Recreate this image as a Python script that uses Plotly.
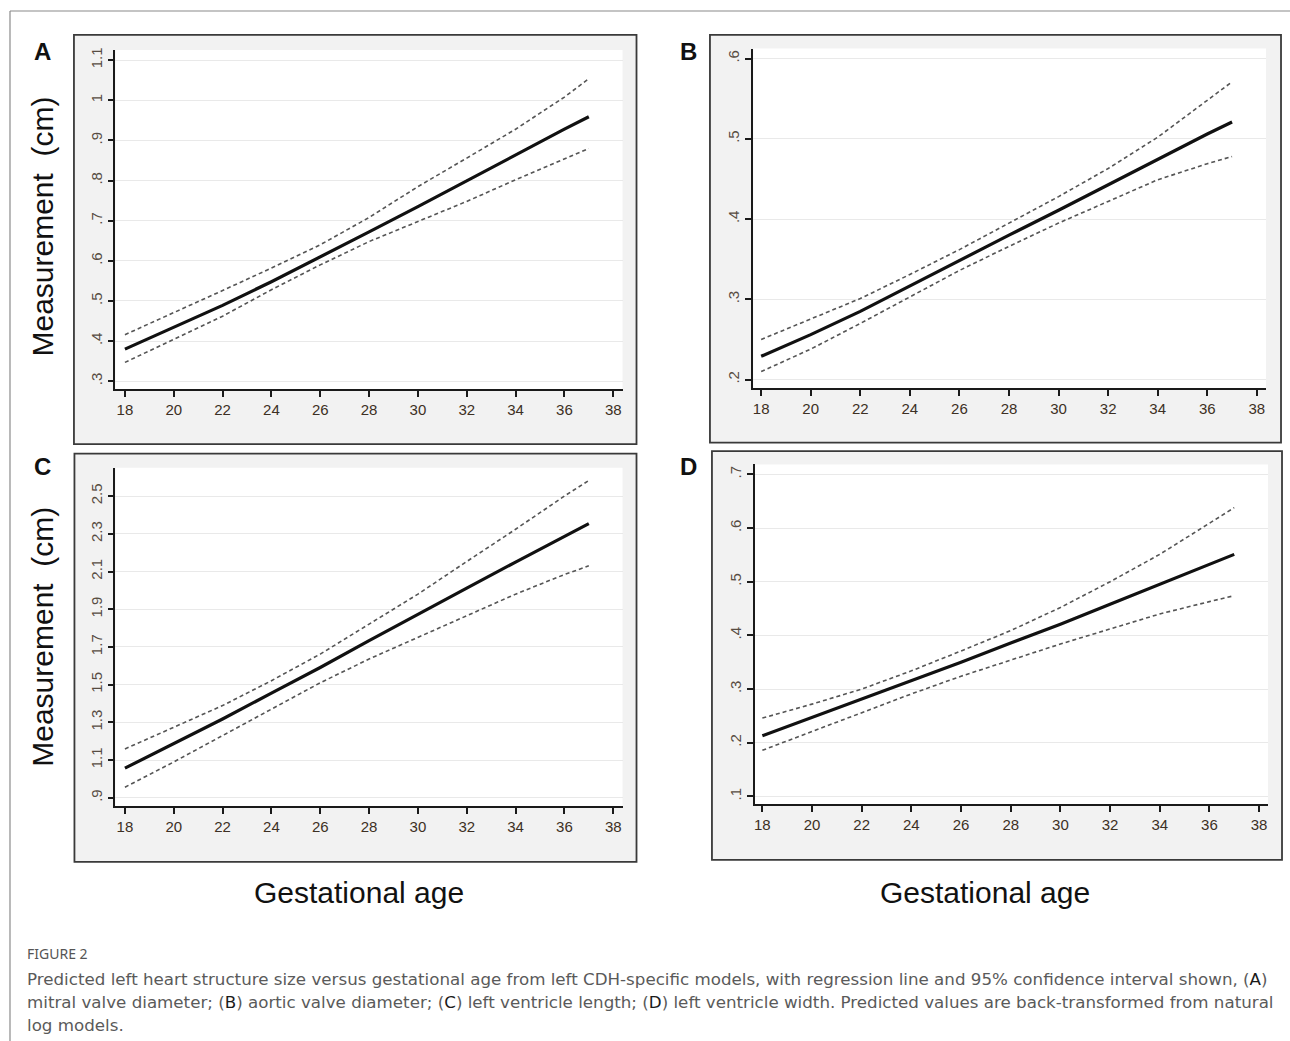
import plotly.graph_objects as go

W, H = 1290, 1041

# ---------------- data ----------------
weeks = [18, 20, 22, 24, 26, 28, 30, 32, 34, 36, 37]

a_fit = [0.380, 0.434, 0.489, 0.548, 0.609, 0.672, 0.735, 0.800, 0.864, 0.928, 0.959]
a_hi = [0.416, 0.470, 0.526, 0.582, 0.640, 0.708, 0.785, 0.856, 0.928, 1.008, 1.054]
a_lo = [0.347, 0.404, 0.462, 0.528, 0.590, 0.648, 0.698, 0.748, 0.802, 0.855, 0.880]

b_fit = [0.229, 0.256, 0.285, 0.317, 0.348, 0.380, 0.411, 0.443, 0.474, 0.506, 0.521]
b_hi = [0.250, 0.275, 0.301, 0.331, 0.362, 0.395, 0.428, 0.463, 0.502, 0.548, 0.571]
b_lo = [0.210, 0.238, 0.270, 0.303, 0.336, 0.366, 0.395, 0.422, 0.449, 0.469, 0.478]

c_fit = [1.057, 1.186, 1.318, 1.455, 1.591, 1.733, 1.874, 2.012, 2.150, 2.287, 2.354]
c_hi = [1.159, 1.274, 1.389, 1.521, 1.662, 1.821, 1.980, 2.153, 2.324, 2.500, 2.583]
c_lo = [0.956, 1.090, 1.230, 1.371, 1.510, 1.636, 1.752, 1.866, 1.980, 2.084, 2.130]

d_fit = [0.213, 0.247, 0.282, 0.316, 0.350, 0.386, 0.421, 0.458, 0.495, 0.532, 0.551]
d_hi = [0.246, 0.272, 0.300, 0.334, 0.371, 0.409, 0.452, 0.500, 0.551, 0.610, 0.638]
d_lo = [0.186, 0.221, 0.257, 0.291, 0.324, 0.354, 0.384, 0.412, 0.440, 0.463, 0.474]

x_ticks = [18, 20, 22, 24, 26, 28, 30, 32, 34, 36, 38]
a_yticks = [0.3, 0.4, 0.5, 0.6, 0.7, 0.8, 0.9, 1.0, 1.1]
a_ylabels = [".3", ".4", ".5", ".6", ".7", ".8", ".9", "1", "1.1"]
b_yticks = [0.2, 0.3, 0.4, 0.5, 0.6]
b_ylabels = [".2", ".3", ".4", ".5", ".6"]
c_yticks = [0.9, 1.1, 1.3, 1.5, 1.7, 1.9, 2.1, 2.3, 2.5]
c_ylabels = [".9", "1.1", "1.3", "1.5", "1.7", "1.9", "2.1", "2.3", "2.5"]
d_yticks = [0.1, 0.2, 0.3, 0.4, 0.5, 0.6, 0.7]
d_ylabels = [".1", ".2", ".3", ".4", ".5", ".6", ".7"]

panel_letters = ["A", "B", "C", "D"]
y_title = "Measurement  (cm)"
x_title = "Gestational age"
caption_head = "FIGURE 2"
caption_lines = [
    "Predicted left heart structure size versus gestational age from left CDH-specific models, with regression line and 95% confidence interval shown, (<span style='color:#1a1a1a'>A</span>)",
    "mitral valve diameter; (<span style='color:#1a1a1a'>B</span>) aortic valve diameter; (<span style='color:#1a1a1a'>C</span>) left ventricle length; (<span style='color:#1a1a1a'>D</span>) left ventricle width. Predicted values are back-transformed from natural",
    "log models.",
]

# ---------------- layout helpers (pixel -> paper) ----------------
def px(x):
    return x / W

def py(y):
    return 1 - y / H

panels = [
    dict(fit=a_fit, hi=a_hi, lo=a_lo, yt=a_yticks, yl=a_ylabels,
         xd=(114.5, 622), yd=(48, 388), xr=(17.61, 38.38), yr=(0.280, 1.1256),
         box=(73, 33, 636, 443)),
    dict(fit=b_fit, hi=b_hi, lo=b_lo, yt=b_yticks, yl=b_ylabels,
         xd=(752.8, 1266), yd=(46.7, 386.7), xr=(17.68, 38.37), yr=(0.1896, 0.6124),
         box=(709.5, 33, 1281, 441.5)),
    dict(fit=c_fit, hi=c_hi, lo=c_lo, yt=c_yticks, yl=c_ylabels,
         xd=(114.5, 622), yd=(466.7, 805.7), xr=(17.61, 38.38), yr=(0.8556, 2.650),
         box=(73.5, 452.5, 636, 861.5)),
    dict(fit=d_fit, hi=d_hi, lo=d_lo, yt=d_yticks, yl=d_ylabels,
         xd=(754.5, 1268), yd=(463.3, 804), xr=(17.70, 38.36), yr=(0.0851, 0.7186),
         box=(711.5, 450, 1282, 859.5)),
]

fig = go.Figure()
shapes = []
layout_axes = {}
tick_font_x = dict(family="Liberation Sans Narrow, Arial Narrow, Liberation Sans, Arial", size=15, color="#3d3024")
tick_font_y = dict(family="Liberation Sans Narrow, Arial Narrow, Liberation Sans, Arial", size=15, color="#574c42")

for i, p in enumerate(panels):
    n = "" if i == 0 else str(i + 1)
    xa, ya = "x" + n, "y" + n
    x0, y0, x1, y1 = p["box"]
    shapes.append(dict(type="rect", xref="paper", yref="paper", layer="below",
                       x0=px(x0), x1=px(x1), y0=py(y1), y1=py(y0),
                       fillcolor="#f2f2f2", line=dict(color="#3a3a3a", width=1.8)))
    shapes.append(dict(type="rect", xref="paper", yref="paper", layer="below",
                       x0=px(p["xd"][0]), x1=px(p["xd"][1]),
                       y0=py(p["yd"][1]), y1=py(p["yd"][0]),
                       fillcolor="white", line=dict(width=0)))
    for ys, dash, col, wdt in [(p["hi"], "4px,3px", "#555555", 1.6),
                               (p["lo"], "4px,3px", "#555555", 1.6),
                               (p["fit"], "solid", "#111111", 3.2)]:
        fig.add_trace(go.Scatter(x=weeks, y=ys, mode="lines", xaxis=xa, yaxis=ya,
                                 line=dict(color=col, width=wdt, dash=dash),
                                 showlegend=False, hoverinfo="skip"))
    layout_axes["xaxis" + n] = dict(
        domain=[px(p["xd"][0]), px(p["xd"][1])], range=list(p["xr"]), anchor=ya,
        tickmode="array", tickvals=x_ticks, ticktext=[str(t) for t in x_ticks],
        showline=True, linecolor="#1a1a1a", linewidth=1.5, ticks="outside",
        ticklen=6, tickwidth=1.5, tickcolor="#1a1a1a", showgrid=False, zeroline=False,
        tickfont=tick_font_x)
    layout_axes["yaxis" + n] = dict(
        domain=[py(p["yd"][1]), py(p["yd"][0])], range=list(p["yr"]), anchor=xa,
        tickmode="array", tickvals=p["yt"], ticktext=p["yl"], tickangle=-90,
        showline=True, linecolor="#1a1a1a", linewidth=1.5, ticks="outside",
        ticklen=6, tickwidth=1.5, tickcolor="#1a1a1a", showgrid=True,
        gridcolor="#e9e9e9", gridwidth=1.2, zeroline=False, tickfont=tick_font_y)

# outer frame lines
shapes.append(dict(type="line", xref="paper", yref="paper", x0=px(9), x1=1, y0=py(9), y1=py(9),
                   line=dict(color="#8a8a8a", width=1.2)))
shapes.append(dict(type="line", xref="paper", yref="paper", x0=px(9), x1=px(9), y0=0, y1=py(9),
                   line=dict(color="#8a8a8a", width=1.2)))

annotations = []
label_pos = [(42, 50), (688, 50), (42, 465), (688, 465)]
for letter, (lx, ly) in zip(panel_letters, label_pos):
    annotations.append(dict(text="<b>" + letter + "</b>", x=px(lx), y=py(ly), xref="paper", yref="paper",
                            showarrow=False, xanchor="center", yanchor="middle",
                            font=dict(family="Liberation Sans, Arial", size=24, color="#111111")))
for cy in (225, 636):
    annotations.append(dict(text=y_title, x=px(42), y=py(cy), xref="paper", yref="paper",
                            showarrow=False, textangle=-90, xanchor="center", yanchor="middle",
                            font=dict(family="Liberation Sans, Arial", size=30, color="#111111")))
for cx in (358, 985):
    annotations.append(dict(text=x_title, x=px(cx), y=py(892), xref="paper", yref="paper",
                            showarrow=False, xanchor="center", yanchor="middle",
                            font=dict(family="Liberation Sans, Arial", size=30, color="#111111")))
annotations.append(dict(text=caption_head, x=px(24), y=py(953), xref="paper", yref="paper",
                        showarrow=False, xanchor="left", yanchor="middle",
                        font=dict(family="Noto Sans, Open Sans", size=14, color="#555555")))
for k, line in enumerate(caption_lines):
    annotations.append(dict(text=line, x=px(24), y=py(979 + 23 * k), xref="paper", yref="paper",
                            showarrow=False, xanchor="left", yanchor="middle",
                            font=dict(family="DejaVu Sans, Noto Sans", size=16.7, color="#5a5a5a")))

fig.update_layout(width=W, height=H, margin=dict(l=0, r=0, t=0, b=0),
                  paper_bgcolor="white", plot_bgcolor="rgba(0,0,0,0)",
                  shapes=shapes, annotations=annotations, **layout_axes)
fig.write_html("out.html", config={"displayModeBar": False},
               post_script="document.body.style.margin='0px';")
